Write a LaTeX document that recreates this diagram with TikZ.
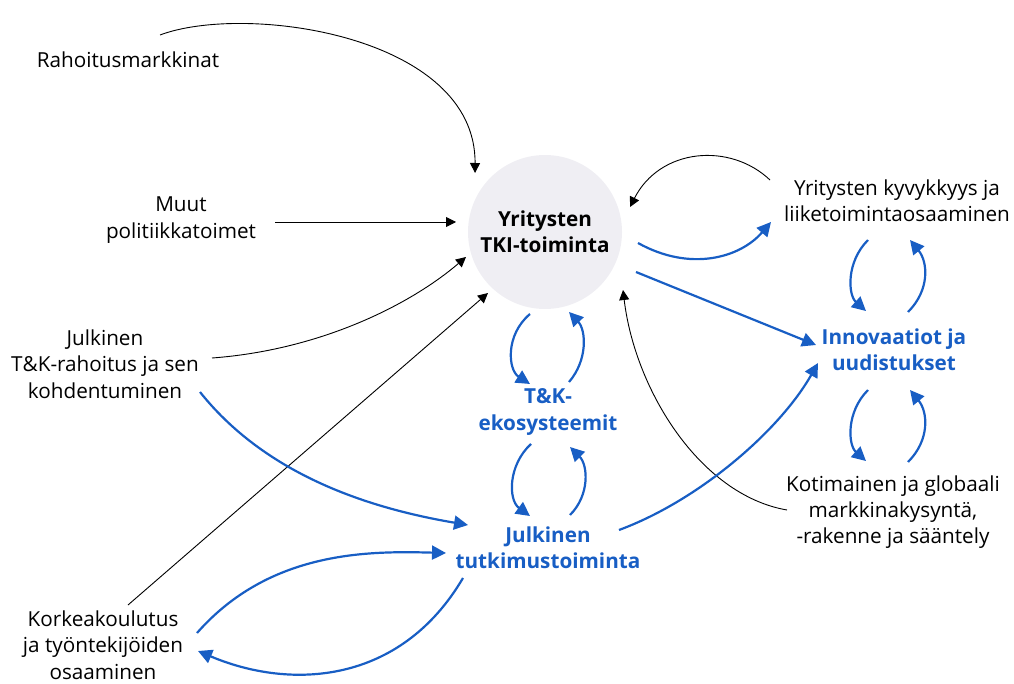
\documentclass[tikz,border=0pt]{standalone}
\usepackage{fontspec}
\setmainfont{Open Sans}
\usetikzlibrary{arrows.meta,calc}
\definecolor{tkblue}{RGB}{24,94,196}
\definecolor{circfill}{RGB}{239,238,243}
\tikzset{
  lbl/.style={align=center,font=\fontsize{20.7}{26.3}\selectfont,inner sep=0pt},
  blbl/.style={lbl,font=\fontsize{20.7}{26.3}\selectfont\bfseries,text=tkblue},
  blk/.style={draw=black,line width=0.9pt,-{Triangle[length=10pt,width=10pt]}},
  blu/.style={draw=tkblue,line width=2.2pt,-{Triangle[length=14pt,width=14pt]}},
}
\begin{document}
\begin{tikzpicture}[x=1pt,y=-1pt]
\useasboundingbox (0,0) rectangle (1014,684);
% nodes
\node[circle,fill=circfill,minimum size=154pt,inner sep=0pt,lbl,font=\fontsize{20.7}{26.3}\selectfont\bfseries] (circ) at (545,232) {Yritysten\\TKI-toiminta};
\node[lbl] (rah) at (128,60) {Rahoitusmarkkinat};
\node[lbl] (muut) at (181,220) {Muut\\politiikkatoimet};
\node[lbl] (julk) at (105,364) {Julkinen\\T\&K-rahoitus ja sen\\kohdentuminen};
\node[lbl] (kork) at (103,645) {Korkeakoulutus\\ja työntekijöiden\\osaaminen};
\node[lbl] (kyv) at (897,201) {Yritysten kyvykkyys ja\\liiketoimintaosaaminen};
\node[blbl] (inn) at (894,350) {Innovaatiot ja\\uudistukset};
\node[lbl] (koti) at (893,512) {Kotimainen ja globaali\\markkinakysyntä,\\-rakenne ja sääntely};
\node[blbl] (tke) at (548,412) {T\&K-\\ekosysteemit};
\node[blbl] (jtt) at (548,548) {Julkinen\\tutkimustoiminta};
% endpoints near nodes
\coordinate (rahO) at ($(rah.center)+(32,-25)$);
\coordinate (circA) at ($(circ.center)+(-70,-59)$);
\coordinate (muutO) at (275,222);
\coordinate (circB) at ($(circ.center)+(-89,-10)$);
\coordinate (julkO) at (212,358);
\coordinate (circC) at ($(circ.center)+(-79,25)$);
\coordinate (korkO) at (128,605);
\coordinate (circD) at ($(circ.center)+(-57,61)$);
\coordinate (kotiO) at (787,510);
\coordinate (circE) at ($(circ.center)+(78,58)$);
\coordinate (kyvO) at (770,180);
\coordinate (circF) at ($(circ.center)+(85,-25)$);
\coordinate (circG) at ($(circ.center)+(93,11)$);
\coordinate (kyvI) at (771,222);
\coordinate (circH) at ($(circ.center)+(91,40)$);
\coordinate (innI) at (816,345);
\coordinate (julkB) at (200,392);
\coordinate (jttI) at (468,525);
\coordinate (korkB) at (197,633);
\coordinate (jttL) at (446,553);
\coordinate (jttD) at (463,578);
\coordinate (korkI) at (198,651);
\coordinate (jttR) at (619,530);
\coordinate (innL) at (818,363);
% black connectors
\draw[blk] (rahO) .. controls (245,3) and (476,35) .. (circA);
\draw[blk] (muutO) -- (circB);
\draw[blk] (julkO) .. controls (320,350) and (410,305) .. (circC);
\draw[blk] (korkO) -- (circD);
\draw[blk] (kotiO) .. controls (700,495) and (635,390) .. (circE);
\draw[blk] (kyvO) .. controls (730,142) and (660,148) .. (circF);
% blue connectors
\draw[blu] (circG) .. controls (690,272) and (740,258) .. (kyvI);
\draw[blu] (circH) -- (innI);
\draw[blu] (julkB) .. controls (270,480) and (380,510) .. (jttI);
\draw[blu] (korkB) .. controls (270,550) and (370,551) .. (jttL);
\draw[blu] (jttD) .. controls (400,685) and (290,690) .. (korkI);
\draw[blu] (jttR) .. controls (700,500) and (780,430) .. (innL);
% loops circ <-> tke
\draw[blu] ($(circ.center)+(-15,82)$) .. controls (505,335) and (508,370) .. ($(tke.center)+(-18,-28)$);
\draw[blu] ($(tke.center)+(21,-30)$) .. controls (588,360) and (586,330) .. ($(circ.center)+(24,80)$);
% loops tke <-> jtt
\draw[blu] ($(tke.center)+(-17,32)$) .. controls (508,465) and (508,500) .. ($(jtt.center)+(-18,-32)$);
\draw[blu] ($(jtt.center)+(22,-33)$) .. controls (590,495) and (588,465) .. ($(tke.center)+(22,35)$);
% loops kyv <-> inn
\draw[blu] ($(kyv.center)+(-29,39)$) .. controls (846,262) and (848,295) .. ($(inn.center)+(-28,-39)$);
\draw[blu] ($(inn.center)+(14,-38)$) .. controls (930,290) and (928,262) .. ($(kyv.center)+(13,39)$);
% loops inn <-> koti
\draw[blu] ($(inn.center)+(-26,40)$) .. controls (846,412) and (848,445) .. ($(koti.center)+(-27,-51)$);
\draw[blu] ($(koti.center)+(15,-50)$) .. controls (930,440) and (928,412) .. ($(inn.center)+(16,40)$);
\end{tikzpicture}
\end{document}
